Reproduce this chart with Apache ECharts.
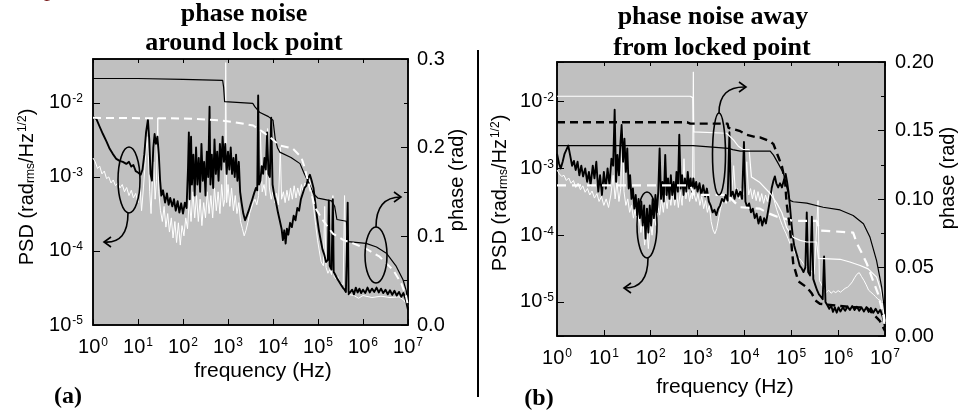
<!DOCTYPE html>
<html><head><meta charset="utf-8">
<script src="https://cdn.jsdelivr.net/npm/echarts@6/dist/echarts.min.js"></script>
<style>html,body{margin:0;padding:0;background:#fff}#c{width:959px;height:414px}</style>
</head><body><div id="c"></div>
<script>
// ---------- tick labels ----------
const freqTicks = [1, 10, 100, 1e3, 1e4, 1e5, 1e6, 1e7];
const psdTicks = [1e-5, 1e-4, 1e-3, 1e-2];
const phaseTicksA = [0, 0.1, 0.2, 0.3];
const phaseTicksB = [0, 0.05, 0.10, 0.15, 0.20];

// ---------- panel (a): around lock point ----------
const aBlackPSD = [[1,6.5e-3],[1.2,6.0e-3],[1.4,4.8e-3],[1.66,3.8e-3],[2.0,3.0e-3],[2.35,2.4e-3],[2.75,2.05e-3],[3.3,1.75e-3],[3.9,1.65e-3],[4.6,1.6e-3],[5.5,1.5e-3],[6.3,1.6e-3],[7.1,1.38e-3],[7.9,1.45e-3],[8.9,1.2e-3],[10,1.15e-3],[11.5,1.07e-3],[12.6,1.26e-3],[13.8,2.0e-3],[15.1,4.0e-3],[16.6,5.9e-3],[17.8,3.2e-3],[19,1.1e-3],[20.4,8.9e-4],[21.9,2.5e-3],[23.4,3.8e-3],[25,2.8e-3],[27,3.5e-3],[29,2.0e-3],[31,8.9e-4],[33,5.6e-4],[36,6.6e-4],[40,4.5e-4],[44,6.0e-4],[48,4.2e-4],[52,5.2e-4],[58,4.0e-4],[63,5.0e-4],[69,3.5e-4],[76,4.7e-4],[83,3.3e-4],[91,4.4e-4],[100,3.2e-4],[110,4.5e-4],[120,3.8e-4],[129,1.26e-3],[135,4.0e-3],[141,5.0e-4],[151,3.5e-3],[158,7.9e-4],[170,2.0e-3],[182,5.6e-4],[195,2.5e-3],[209,7.9e-4],[224,1.8e-3],[240,6.3e-4],[257,2.8e-3],[275,8.9e-4],[295,1.6e-3],[316,5.6e-4],[339,2.2e-3],[363,1.0e-3],[389,8.9e-3],[407,7.9e-4],[437,2.0e-3],[468,7.1e-4],[501,3.2e-3],[537,1.1e-3],[575,2.2e-3],[617,8.9e-4],[661,2.8e-3],[708,1.26e-3],[759,3.5e-3],[813,1.6e-3],[871,2.8e-3],[933,1.1e-3],[1000,2.2e-3],[1070,1.26e-3],[1150,2.5e-3],[1230,1.1e-3],[1320,1.8e-3],[1410,1.0e-3],[1510,2.0e-3],[1620,8.9e-4],[1740,1.6e-3],[1860,6.3e-4],[2000,4.5e-4],[2190,3.2e-4],[2400,2.6e-4],[2630,3.0e-4],[2880,3.5e-4],[3160,4.2e-4],[3470,5.0e-4],[3800,6.0e-4],[4170,7.1e-4],[4470,6.6e-4],[4680,1.26e-2],[4900,7.9e-4],[5250,8.9e-4],[5620,1.4e-3],[6030,1.1e-3],[6460,1.8e-3],[6920,1.26e-3],[7410,4.0e-3],[7940,1.1e-3],[8510,1.0e-3],[9120,6.3e-3],[9770,7.9e-4],[10700,5.6e-4],[11700,4.5e-4],[12900,3.3e-4],[14100,2.6e-4],[15500,2.0e-4],[16600,1.4e-4],[17800,1.9e-4],[19100,1.26e-4],[20400,2.0e-4],[21900,1.66e-4],[24000,2.4e-4],[26300,2.1e-4],[28800,3.0e-4],[31600,2.6e-4],[34700,3.8e-4],[38000,3.5e-4],[41700,5.0e-4],[45700,5.2e-4],[50100,7.1e-4],[55000,7.6e-4],[60300,9.5e-4],[66100,1.07e-3],[72400,8.9e-4],[79400,7.1e-4],[87100,4.5e-4],[95500,2.8e-4],[104700,1.9e-4],[114800,1.4e-4],[125900,1.05e-4],[138000,8.9e-5],[151000,7.1e-5],[166000,7.6e-5],[174000,4.8e-4],[182000,6.3e-5],[200000,5.6e-5],[214000,5.0e-4],[224000,5.2e-5],[245000,4.7e-5],[269000,4.2e-5],[295000,4.0e-5],[324000,3.5e-5],[355000,3.2e-5],[389000,3.0e-5],[417000,2.8e-5],[457000,4.5e-4],[479000,2.6e-5],[525000,2.5e-5],[575000,3.0e-5],[631000,2.6e-5],[692000,3.2e-5],[759000,2.75e-5],[832000,3.1e-5],[912000,2.7e-5],[1e6,3.0e-5],[1.12e6,2.7e-5],[1.26e6,3.2e-5],[1.41e6,2.75e-5],[1.58e6,3.1e-5],[1.78e6,2.8e-5],[2.0e6,3.2e-5],[2.24e6,2.75e-5],[2.51e6,3.1e-5],[2.82e6,2.7e-5],[3.16e6,3.0e-5],[3.55e6,2.6e-5],[3.98e6,2.95e-5],[4.47e6,2.55e-5],[5.0e6,2.9e-5],[5.62e6,2.5e-5],[6.3e6,2.8e-5],[7.1e6,2.4e-5],[7.9e6,2.7e-5],[8.9e6,2.2e-5],[1e7,1.6e-5]];

const aWhitePSD = [[1,1.8e-3],[1.12,1.6e-3],[1.26,1.3e-3],[1.41,1.4e-3],[1.58,1.1e-3],[1.78,1.2e-3],[2.0,9.5e-4],[2.24,1.0e-3],[2.51,8.3e-4],[2.82,9.1e-4],[3.16,7.6e-4],[3.55,8.3e-4],[3.98,7.1e-4],[4.47,7.9e-4],[5.0,6.3e-4],[5.6,7.2e-4],[6.3,5.6e-4],[7.1,6.6e-4],[7.9,5.2e-4],[8.9,6.0e-4],[10,4.5e-4],[11,7.9e-4],[12,3.5e-4],[13.2,7.1e-4],[14.5,1.6e-3],[15.8,3.5e-3],[17,2.0e-3],[18.2,6.3e-4],[19.5,3.2e-4],[21,1.0e-3],[22.4,1.6e-3],[24,5.0e-4],[25.7,8.9e-4],[27.5,6.3e-3],[29,6.3e-4],[31.6,3.5e-4],[34.7,2.5e-4],[38,4.0e-4],[41.7,2.1e-4],[45.7,3.2e-4],[50,1.8e-4],[55,2.8e-4],[60,1.5e-4],[66,2.5e-4],[72,1.3e-4],[79,2.4e-4],[87,1.2e-4],[95,2.2e-4],[105,1.6e-4],[115,2.8e-4],[126,2.0e-4],[138,5.0e-4],[151,2.5e-4],[166,6.3e-4],[182,2.8e-4],[200,5.6e-4],[219,2.5e-4],[240,5.0e-4],[263,2.2e-4],[288,4.5e-4],[316,2.8e-4],[347,6.3e-4],[380,3.2e-4],[417,5.6e-4],[457,2.8e-4],[501,7.1e-4],[550,3.5e-4],[603,6.3e-4],[661,3.2e-4],[724,7.9e-4],[794,4.0e-4],[851,5.0e-4],[891,3.5e-2],[933,4.5e-4],[1000,7.9e-4],[1100,4.0e-4],[1200,7.1e-4],[1320,3.5e-4],[1450,5.6e-4],[1580,3.2e-4],[1740,4.5e-4],[1900,2.5e-4],[2090,2.0e-4],[2290,1.6e-4],[2510,1.9e-4],[2750,2.4e-4],[3020,3.2e-4],[3310,3.8e-4],[3630,4.5e-4],[3980,5.0e-4],[4370,4.2e-4],[4790,5.6e-4],[5250,4.0e-3],[5750,6.3e-4],[6310,7.9e-4],[6920,5.6e-4],[7590,4.5e-3],[8320,7.1e-4],[9120,5.0e-4],[10000,6.3e-4],[11000,4.5e-4],[12000,6.0e-4],[13200,4.2e-4],[14500,2.5e-3],[15500,5.0e-4],[17000,6.3e-4],[18600,4.5e-4],[20400,6.6e-4],[22400,4.8e-4],[24500,7.1e-4],[26900,5.0e-4],[29500,7.6e-4],[32400,5.2e-4],[35500,7.1e-4],[38900,5.6e-4],[42700,7.9e-4],[46800,6.3e-4],[51300,8.3e-4],[56200,7.6e-4],[61700,9.5e-4],[67600,8.3e-4],[74100,5.6e-4],[81300,3.5e-4],[89100,2.2e-4],[97700,1.4e-4],[107000,1.0e-4],[117500,7.1e-5],[132000,6.3e-5],[141000,4.0e-4],[151000,6.0e-5],[166000,5.0e-5],[182000,5.6e-5],[200000,4.8e-5],[214000,5.6e-4],[229000,4.5e-5],[251000,4.2e-5],[275000,4.5e-5],[302000,3.8e-5],[331000,4.0e-5],[363000,3.5e-5],[389000,5.6e-4],[417000,3.2e-5],[457000,2.6e-5],[631000,2.5e-5],[794000,2.3e-5],[1e6,2.5e-5],[1.58e6,2.35e-5],[2.51e6,2.45e-5],[3.98e6,2.35e-5],[6.3e6,2.4e-5],[7.9e6,2.2e-5],[1e7,1.8e-5]];

const aBlackPhase = [[1,0.278],[10,0.278],[100,0.277],[760,0.276],[800,0.268],[840,0.252],[3550,0.250],[3980,0.246],[5010,0.240],[7940,0.235],[10000,0.231],[11200,0.210],[12600,0.200],[14100,0.195],[25100,0.189],[39800,0.182],[50100,0.170],[63100,0.160],[79400,0.148],[100000,0.143],[200000,0.140],[234000,0.134],[263000,0.119],[427000,0.117],[468000,0.094],[1.17e6,0.092],[2.0e6,0.088],[3.31e6,0.081],[5.5e6,0.066],[7.76e6,0.051],[9.1e6,0.039],[1e7,0.026]];

const aWhiteDashPhase = [[1,0.2336],[100,0.233],[600,0.231],[1290,0.229],[3630,0.225],[6030,0.2175],[8510,0.212],[14100,0.2025],[27500,0.199],[42700,0.189],[50100,0.178],[64600,0.156],[85100,0.133],[129000,0.118],[214000,0.103],[363000,0.096],[603000,0.092],[1.17e6,0.086],[2.34e6,0.077],[4.68e6,0.062],[7.08e6,0.047],[9.12e6,0.032],[1e7,0.021]];

// ---------- panel (b): away from locked point ----------
const bBlackPSD = [[1,1.66e-3],[1.1,1.2e-3],[1.2,1.0e-3],[1.32,1.26e-3],[1.45,1.66e-3],[1.58,1.6e-3],[1.74,2.2e-3],[1.9,1.6e-3],[2.1,1.1e-3],[2.3,1.3e-3],[2.5,9.5e-4],[2.75,1.26e-3],[3.0,7.9e-4],[3.3,1.1e-3],[3.6,7.6e-4],[4.0,1.0e-3],[4.4,6.3e-4],[4.8,8.9e-4],[5.2,5.6e-4],[5.8,1.1e-3],[6.3,7.1e-4],[6.9,1.26e-3],[7.6,4.5e-4],[8.3,7.9e-4],[9.1,4.0e-4],[10,8.9e-4],[11,5.0e-4],[12,1.0e-3],[13.2,5.6e-4],[14.5,1.4e-3],[15.8,1.1e-3],[17,7.6e-3],[18.2,6.3e-4],[19.5,1.6e-3],[21,7.9e-4],[22.4,2.2e-3],[24,4.5e-3],[25.7,1.26e-3],[27.5,2.8e-3],[29.5,8.9e-4],[31.6,2.0e-3],[33.9,5.0e-4],[36.3,7.9e-4],[38.9,3.5e-4],[41.7,5.0e-4],[44.7,2.5e-4],[47.9,4.0e-4],[51.3,2.0e-4],[55,3.5e-4],[58.9,1.8e-4],[63,3.2e-4],[67.6,1.4e-4],[72.4,2.8e-4],[77.6,8.9e-5],[83.2,2.5e-4],[89.1,1.1e-4],[95.5,2.8e-4],[102,1.4e-4],[110,3.5e-4],[117,1.8e-4],[126,4.0e-4],[135,2.2e-4],[145,4.5e-4],[155,2.0e-3],[166,3.5e-4],[178,6.3e-4],[190,3.2e-4],[204,1.6e-3],[219,4.0e-4],[234,7.1e-4],[251,3.5e-4],[269,7.9e-4],[288,4.0e-4],[309,6.3e-4],[331,3.5e-4],[355,8.9e-4],[380,4.5e-4],[407,3.2e-3],[437,5.0e-4],[468,7.9e-4],[501,4.0e-4],[537,7.1e-4],[575,4.5e-4],[617,8.9e-4],[661,5.0e-4],[708,7.1e-4],[759,4.5e-4],[813,7.1e-4],[871,5.0e-4],[933,6.3e-4],[1000,4.5e-4],[1100,6.0e-4],[1200,4.0e-4],[1320,5.6e-4],[1450,3.8e-4],[1580,5.0e-4],[1740,3.2e-4],[1900,2.8e-4],[2090,2.2e-4],[2290,2.4e-4],[2510,2.0e-4],[2750,2.5e-4],[3020,2.8e-4],[3310,3.5e-4],[3630,3.2e-4],[3980,4.0e-4],[4370,3.3e-4],[4790,3.5e-3],[5130,3.8e-4],[5620,4.5e-4],[6170,3.5e-4],[6760,4.8e-4],[7410,3.8e-4],[8130,4.5e-4],[8910,3.5e-4],[9770,2.5e-3],[10500,3.2e-4],[11500,2.6e-4],[12600,3.0e-4],[13800,2.2e-4],[15100,2.5e-4],[16600,1.8e-4],[18200,2.1e-4],[20000,1.5e-4],[21900,1.9e-4],[24000,1.4e-4],[26300,1.8e-4],[28800,1.5e-4],[31600,2.2e-4],[34700,3.2e-4],[38000,5.0e-4],[41700,6.6e-4],[44700,7.6e-4],[47900,6.0e-4],[52500,5.2e-4],[57500,6.0e-4],[63100,5.2e-4],[69200,6.6e-4],[75900,8.3e-4],[81300,6.3e-4],[87100,4.5e-4],[93300,2.8e-4],[100000,1.6e-4],[107000,1.0e-4],[115000,7.1e-5],[126000,5.6e-5],[138000,4.5e-5],[151000,3.5e-5],[166000,3.2e-5],[182000,2.8e-5],[200000,3.3e-5],[214000,2.2e-4],[229000,2.8e-5],[251000,2.5e-5],[275000,1.9e-4],[295000,2.2e-5],[324000,1.8e-5],[355000,1.5e-5],[389000,1.3e-5],[427000,1.2e-5],[468000,1.1e-5],[501000,4.8e-5],[537000,1.0e-5],[589000,8.9e-6],[646000,7.9e-6],[708000,8.9e-6],[776000,7.1e-6],[851000,8.3e-6],[933000,6.9e-6],[1.02e6,8.3e-6],[1.12e6,7.2e-6],[1.26e6,8.3e-6],[1.41e6,7.4e-6],[1.58e6,8.5e-6],[1.78e6,7.6e-6],[2.0e6,8.7e-6],[2.24e6,7.6e-6],[2.51e6,8.5e-6],[2.82e6,7.4e-6],[3.16e6,8.3e-6],[3.55e6,7.2e-6],[3.98e6,8.3e-6],[4.47e6,7.1e-6],[5.0e6,8.1e-6],[5.62e6,6.9e-6],[6.31e6,7.9e-6],[7.08e6,6.8e-6],[7.94e6,7.6e-6],[8.91e6,6.0e-6],[1e7,4.2e-6]];

const bWhitePSD = [[1,9.5e-4],[1.12,8.3e-4],[1.26,7.6e-4],[1.41,7.9e-4],[1.58,6.6e-4],[1.78,7.2e-4],[2.0,6.0e-4],[2.24,6.6e-4],[2.51,5.2e-4],[2.82,6.0e-4],[3.16,4.8e-4],[3.55,5.5e-4],[3.98,4.4e-4],[4.47,5.0e-4],[5.0,4.0e-4],[5.6,4.6e-4],[6.3,3.6e-4],[7.1,4.2e-4],[7.9,3.2e-4],[8.9,3.8e-4],[10,2.8e-4],[11.2,3.5e-4],[12.6,2.6e-4],[14.1,4.0e-4],[15.8,7.9e-4],[17.4,3.5e-4],[19,6.3e-4],[21,3.2e-4],[22.9,5.0e-4],[25.1,4.5e-3],[26.9,4.5e-4],[29.5,2.8e-4],[32.4,3.5e-4],[35.5,2.2e-4],[38.9,2.8e-4],[42.7,1.8e-4],[46.8,2.5e-4],[51.3,1.4e-4],[56.2,2.0e-4],[61.7,1.1e-4],[67.6,1.8e-4],[74.1,7.1e-5],[81.3,1.4e-4],[89.1,6.3e-5],[97.7,1.6e-4],[107,1.0e-4],[117,2.0e-4],[129,1.4e-4],[141,2.8e-4],[155,2.0e-4],[170,3.5e-4],[186,2.2e-4],[204,4.0e-4],[224,2.5e-4],[245,4.5e-4],[269,2.8e-4],[295,5.0e-4],[324,2.8e-4],[355,4.5e-4],[389,2.6e-4],[427,4.5e-4],[468,2.8e-4],[513,1.4e-3],[562,3.5e-4],[617,5.0e-4],[676,3.2e-4],[741,4.5e-4],[776,3.5e-4],[813,2.8e-2],[851,4.0e-4],[933,3.2e-4],[1020,4.2e-4],[1120,2.8e-4],[1230,3.8e-4],[1350,2.5e-4],[1480,3.3e-4],[1620,2.2e-4],[1780,2.8e-4],[1950,1.6e-4],[2140,1.2e-4],[2340,1.05e-4],[2570,1.26e-4],[2820,1.8e-4],[3090,2.5e-4],[3390,3.2e-4],[3720,3.5e-4],[4070,3.0e-4],[4470,4.0e-4],[4900,3.2e-4],[5370,4.5e-4],[5890,1.1e-3],[6460,4.0e-4],[7080,5.0e-4],[7760,3.5e-4],[8510,5.0e-4],[9330,4.0e-4],[10200,5.2e-4],[11200,1.26e-3],[12300,4.0e-4],[13500,5.0e-4],[14800,3.5e-4],[16200,4.8e-4],[17800,3.3e-4],[19500,4.5e-4],[21400,3.2e-4],[23400,4.2e-4],[25700,3.0e-4],[28200,4.0e-4],[30900,3.2e-4],[33900,4.2e-4],[37200,5.0e-4],[40700,4.0e-4],[44700,3.0e-4],[49000,2.4e-4],[53700,2.0e-4],[58900,1.66e-4],[64600,1.4e-4],[70800,1.2e-4],[77600,1.05e-4],[85100,8.9e-5],[93300,7.6e-5],[102000,6.6e-5],[112000,6.0e-5],[123000,5.2e-5],[135000,4.8e-5],[148000,4.5e-5],[162000,4.2e-5],[178000,3.8e-5],[195000,3.5e-5],[214000,3.3e-5],[234000,3.2e-5],[257000,3.0e-5],[282000,2.8e-5],[309000,2.6e-5],[339000,2.5e-5],[372000,3.3e-4],[398000,2.1e-5],[447000,1.8e-5],[501000,1.5e-5],[562000,1.4e-5],[631000,1.5e-5],[708000,1.35e-5],[794000,1.45e-5],[891000,1.38e-5],[1e6,1.48e-5],[1.12e6,1.4e-5],[1.26e6,1.5e-5],[1.41e6,1.6e-5],[1.58e6,1.66e-5],[1.78e6,1.8e-5],[2.0e6,2.0e-5],[2.24e6,2.3e-5],[2.51e6,2.6e-5],[2.82e6,2.75e-5],[3.16e6,2.4e-5],[3.55e6,2.1e-5],[3.98e6,1.8e-5],[4.47e6,1.5e-5],[5.0e6,1.4e-5],[5.62e6,1.3e-5],[6.31e6,1.2e-5],[7.08e6,1.1e-5],[7.94e6,1.05e-5],[8.91e6,8.9e-6],[1e7,5.0e-6]];

const bWhiteStairPhase = [[1,0.175],[700,0.175],[790,0.174],[830,0.149],[4170,0.148],[5890,0.143],[7410,0.1385],[9550,0.136],[12600,0.136],[14100,0.116],[21400,0.112],[35500,0.104],[49000,0.097],[63100,0.090],[79400,0.079],[110000,0.072],[155000,0.0698],[214000,0.0686],[347000,0.0686],[380000,0.0566],[1.1e6,0.056],[1.78e6,0.054],[2.95e6,0.0515],[4.37e6,0.049],[6.61e6,0.043],[8.51e6,0.031],[1e7,0.011]];

const bBlackDashPhase = [[1,0.156],[600,0.156],[700,0.155],[4370,0.155],[4570,0.152],[8130,0.1495],[11000,0.147],[17800,0.145],[21400,0.145],[35500,0.142],[41700,0.140],[52500,0.131],[63100,0.124],[74100,0.112],[79400,0.097],[93300,0.079],[102000,0.065],[110000,0.053],[141000,0.040],[214000,0.0355],[275000,0.031],[324000,0.026],[407000,0.0235],[2.0e6,0.021],[4.07e6,0.0208],[5.62e6,0.016],[7.76e6,0.011],[1e7,0.0037]];

const bBlackSolidPhase = [[1,0.139],[800,0.139],[830,0.138],[4570,0.137],[5620,0.136],[8130,0.135],[35500,0.135],[41700,0.132],[52500,0.126],[67600,0.119],[79400,0.109],[93300,0.099],[110000,0.098],[214000,0.097],[479000,0.094],[1.1e6,0.092],[2.09e6,0.088],[3.47e6,0.082],[4.79e6,0.072],[6.61e6,0.055],[8.51e6,0.0355],[1e7,0.016]];

const bWhiteDashPhase = [[1,0.110],[700,0.110],[850,0.103],[4270,0.103],[7940,0.094],[21400,0.093],[30200,0.090],[50100,0.087],[110000,0.084],[347000,0.084],[407000,0.077],[2.09e6,0.0755],[2.51e6,0.0676],[3.16e6,0.061],[4.07e6,0.053],[5.62e6,0.040],[7.08e6,0.031],[9.12e6,0.016],[1e7,0.005]];

// ---------- chart ----------
const SANS = '"Liberation Sans", Arial, sans-serif';
const SERIF = '"Liberation Serif", "Times New Roman", serif';
const chart = echarts.init(document.getElementById('c'), null, {renderer: 'canvas'});

function powLabel(v) {
  const l = Math.log10(v), e = Math.round(l);
  if (Math.abs(l - e) > 1e-6) return '';
  return '{b|10}{s|' + e + '}';
}
const powRich = {
  b: {fontSize: 20, fontFamily: SANS, color: '#000'},
  s: {fontSize: 12, fontFamily: SANS, color: '#000', verticalAlign: 'top', padding: [0, 0, 0, 1]}
};

function xAx(grid, pos, labels) {
  return {
    type: 'log', logBase: 10, gridIndex: grid, position: pos, min: freqTicks[0], max: freqTicks[freqTicks.length - 1],
    axisLine: {show: true, onZero: false, lineStyle: {color: '#000', width: 1.5}},
    axisTick: {show: true, inside: true, length: pos === 'top' ? 4 : 6, lineStyle: {color: '#000', width: 1}},
    axisLabel: {show: labels, formatter: powLabel, rich: powRich, margin: 12},
    splitLine: {show: false}, minorTick: {show: false}
  };
}
function yPsd(grid, min, max, margin) {
  return {
    type: 'log', logBase: 10, gridIndex: grid, position: 'left', min: min, max: max,
    axisLine: {show: true, onZero: false, lineStyle: {color: '#000', width: 1.5}},
    axisTick: {show: true, inside: true, length: 7, lineStyle: {color: '#000'}},
    axisLabel: {formatter: powLabel, rich: powRich, margin: margin},
    splitLine: {show: false}
  };
}
function yPhase(grid, ticks, digits, margin) {
  return {
    type: 'value', gridIndex: grid, position: 'right', min: ticks[0], max: ticks[ticks.length - 1],
    interval: ticks[1] - ticks[0],
    axisLine: {show: true, lineStyle: {color: '#000', width: 1.5}},
    axisTick: {show: true, inside: true, length: 7, lineStyle: {color: '#000'}},
    minorTick: {show: true, splitNumber: 2, length: 4, lineStyle: {color: '#000'}},
    axisLabel: {formatter: v => v.toFixed(digits), fontSize: 20, fontFamily: SANS, color: '#000', margin: margin},
    splitLine: {show: false}
  };
}
function ser(data, xi, yi, color, width, dash, z) {
  return {
    type: 'line', data: data, xAxisIndex: xi, yAxisIndex: yi, showSymbol: false, symbol: 'none',
    clip: true, animation: false, z: z,
    lineStyle: {color: color, width: width, type: dash ? dash : 'solid', join: 'round'}
  };
}

const txt = (x, y, text, size, font, opts) => Object.assign({
  type: 'text', x: x, y: y,
  style: Object.assign({text: text, fontSize: size, fontFamily: font, fill: '#000', align: 'center', verticalAlign: 'middle'}, opts && opts.style || {})
}, opts && opts.el || {});

const psdRich = {
  m: {fontSize: 20, fontFamily: SANS, fill: '#000', color: '#000'},
  sub: {fontSize: 12, fontFamily: SANS, color: '#000', verticalAlign: 'bottom', padding: [6, 0, 0, 0]},
  sup: {fontSize: 12, fontFamily: SANS, color: '#000', verticalAlign: 'top', padding: [0, 0, 6, 1]}
};
const psdText = '{m|PSD (rad}{sub|rms}{m|/Hz}{sup|1/2}{m|)}';

function arrow(x1, y1, cx, cy, x2, y2, dir) {
  const d = dir === 'left' ? 7 : -7;
  return [
    {type: 'bezierCurve', shape: {x1: x1, y1: y1, cpx1: cx, cpy1: cy, x2: x2, y2: y2}, style: {stroke: '#000', fill: null, lineWidth: 1.6}, z: 50},
    {type: 'polyline', shape: {points: [[x2 + d, y2 - 5], [x2, y2], [x2 + d, y2 + 5]]}, style: {stroke: '#000', fill: null, lineWidth: 1.6}, z: 50}
  ];
}
function ellipse(cx, cy, rx, ry) {
  return {type: 'ellipse', shape: {cx: cx, cy: cy, rx: rx, ry: ry}, style: {stroke: '#000', fill: null, lineWidth: 1.6}, z: 50};
}

const graphics = [
  {type: 'line', shape: {x1: 478, y1: 50, x2: 478, y2: 397}, style: {stroke: '#000', lineWidth: 2}},
  txt(50, -10, 'p', 24, SERIF, {style: {fill: '#7a1f1f'}}),
  txt(145, -11, '(', 24, SERIF, {style: {fill: '#7a1f1f'}}),
  txt(252, -11, ')', 24, SERIF, {style: {fill: '#7a1f1f'}}),
  txt(244, 14, 'phase noise', 26, SERIF, {style: {fontWeight: 'bold'}}),
  txt(244, 43, 'around lock point', 26, SERIF, {style: {fontWeight: 'bold'}}),
  txt(713, 17, 'phase noise away', 26, SERIF, {style: {fontWeight: 'bold'}}),
  txt(712, 48, 'from locked point', 26, SERIF, {style: {fontWeight: 'bold'}}),
  txt(263, 371, 'frequency (Hz)', 21, SANS),
  txt(725, 387, 'frequency (Hz)', 21, SANS),
  txt(457, 180, 'phase (rad)', 20, SANS, {el: {rotation: Math.PI / 2}}),
  txt(948, 178, 'phase (rad)', 20, SANS, {el: {rotation: Math.PI / 2}}),
  {type: 'text', x: 27, y: 187, rotation: Math.PI / 2, style: {text: psdText, rich: psdRich, align: 'center', verticalAlign: 'middle', fill: '#000'}},
  {type: 'text', x: 500, y: 193, rotation: Math.PI / 2, style: {text: psdText, rich: psdRich, align: 'center', verticalAlign: 'middle', fill: '#000'}},
  txt(68, 397, '(a)', 24, SERIF, {style: {fontWeight: 'bold'}}),
  txt(539, 399, '(b)', 24, SERIF, {style: {fontWeight: 'bold'}}),
  ellipse(129, 180, 11, 33), ...arrow(128, 213, 128, 244, 104, 242, 'left'),
  ellipse(376, 255, 11, 28), ...arrow(376, 227, 376, 197, 401, 197, 'right'),
  ellipse(647, 225, 10, 33), ...arrow(648, 258, 648, 289, 624, 288, 'left'),
  ellipse(719, 154, 6.5, 41), ...arrow(719, 113, 719, 86, 746, 87, 'right')
];

const option = {
  animation: false,
  backgroundColor: '#fff',
  grid: [
    {left: 93, top: 59, width: 315, height: 266, show: true, backgroundColor: '#c0c0c0', borderColor: '#000', borderWidth: 1.5},
    {left: 557, top: 62, width: 328, height: 274, show: true, backgroundColor: '#c0c0c0', borderColor: '#000', borderWidth: 1.5}
  ],
  xAxis: [xAx(0, 'bottom', true), xAx(0, 'top', false), xAx(1, 'bottom', true), xAx(1, 'top', false)],
  yAxis: [
    yPsd(0, psdTicks[0], Math.pow(10, -1.407), 10),
    yPhase(0, phaseTicksA, 1, 9),
    yPsd(1, Math.pow(10, -5.51), Math.pow(10, -1.405), 3),
    yPhase(1, phaseTicksB, 2, 10)
  ],
  series: [
    ser(aWhitePSD, 0, 0, '#ffffff', 1, null, 2),
    ser(aBlackPSD, 0, 0, '#000000', 1.9, null, 3),
    ser(aBlackPhase, 0, 1, '#000000', 1.2, null, 4),
    ser(aWhiteDashPhase, 0, 1, '#ffffff', 2, [8, 5], 5),
    ser(bWhitePSD, 2, 2, '#ffffff', 1, null, 2),
    ser(bBlackPSD, 2, 2, '#000000', 1.9, null, 3),
    ser(bWhiteStairPhase, 2, 3, '#ffffff', 1.2, null, 4),
    ser(bWhiteDashPhase, 2, 3, '#ffffff', 2.2, [9, 6], 5),
    ser(bBlackSolidPhase, 2, 3, '#000000', 1.2, null, 6),
    ser(bBlackDashPhase, 2, 3, '#000000', 2.4, [8, 5], 7)
  ],
  graphic: graphics
};
chart.setOption(option);
</script></body></html>
